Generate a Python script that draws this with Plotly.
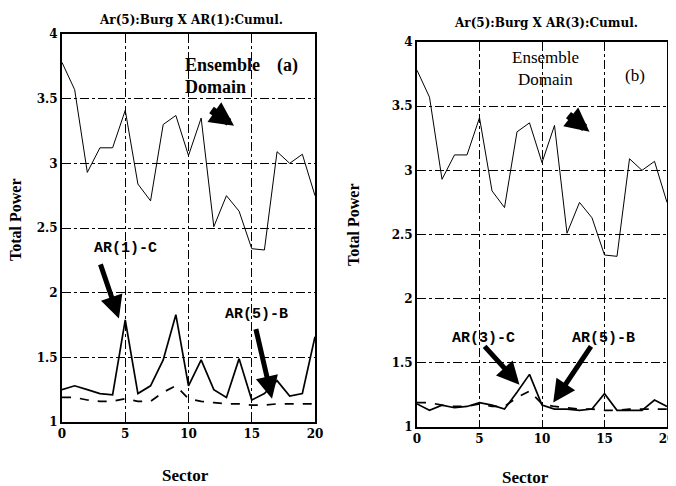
import plotly.graph_objects as go

sectors = list(range(21))
ensemble = [3.78, 3.57, 2.93, 3.12, 3.12, 3.41, 2.84, 2.71, 3.30, 3.37, 3.06,
            3.35, 2.51, 2.75, 2.63, 2.34, 2.33, 3.09, 3.00, 3.07, 2.75]
ar1_c = [1.25, 1.28, 1.25, 1.22, 1.21, 1.79, 1.22, 1.28, 1.48, 1.83, 1.28,
         1.48, 1.25, 1.19, 1.49, 1.17, 1.22, 1.32, 1.20, 1.22, 1.66]
ar5_b = [1.19, 1.19, 1.17, 1.16, 1.16, 1.18, 1.16, 1.16, 1.23, 1.28, 1.18,
         1.16, 1.15, 1.14, 1.14, 1.13, 1.13, 1.14, 1.14, 1.14, 1.14]
ar3_c = [1.18, 1.13, 1.17, 1.15, 1.16, 1.19, 1.17, 1.14, 1.27, 1.41, 1.17,
         1.14, 1.14, 1.13, 1.14, 1.26, 1.13, 1.13, 1.13, 1.21, 1.16]

x_ticks = [0, 5, 10, 15, 20]
y_ticks = [1, 1.5, 2, 2.5, 3, 3.5, 4]
y_ticklabels = ["1", "1.5", "2", "2.5", "3", "3.5", "4"]
titles = ["Ar(5):Burg X AR(1):Cumul.", "Ar(5):Burg X AR(3):Cumul."]

SERIF = "Liberation Serif"
WIDE = "DejaVu Serif"
MONO = "Liberation Mono"

# page body has an 8px margin; lay out in window pixels
OFF = 8
W, H = 676 - OFF, 486 - OFF

def px(x):
    return (x - OFF) / W

def py(y):
    return 1 - (y - OFF) / H

fig = go.Figure()

# Panel (a)
fig.add_trace(go.Scatter(x=sectors, y=ensemble, mode="lines", line=dict(color="black", width=1),
                         xaxis="x", yaxis="y", showlegend=False))
fig.add_trace(go.Scatter(x=sectors, y=ar1_c, mode="lines", line=dict(color="black", width=1.7),
                         xaxis="x", yaxis="y", showlegend=False))
fig.add_trace(go.Scatter(x=sectors, y=ar5_b, mode="lines", line=dict(color="black", width=1.7, dash="dash"),
                         xaxis="x", yaxis="y", showlegend=False))
# Panel (b)
fig.add_trace(go.Scatter(x=sectors, y=ensemble, mode="lines", line=dict(color="black", width=1),
                         xaxis="x2", yaxis="y2", showlegend=False))
fig.add_trace(go.Scatter(x=sectors, y=ar3_c, mode="lines", line=dict(color="black", width=1.7),
                         xaxis="x2", yaxis="y2", showlegend=False))
fig.add_trace(go.Scatter(x=sectors, y=ar5_b, mode="lines", line=dict(color="black", width=1.7, dash="dash"),
                         xaxis="x2", yaxis="y2", showlegend=False))

tickfont = dict(family=WIDE, size=12, color="black")

def xaxis(domain, anchor):
    return dict(domain=domain, anchor=anchor, range=[0, 20], tickvals=x_ticks,
                ticktext=["<b>%d</b>" % v for v in x_ticks], tickfont=tickfont,
                showline=True, linecolor="black", linewidth=2, mirror=True,
                showgrid=True, gridcolor="black", gridwidth=1, griddash="dashdot",
                ticks="inside", ticklen=4, tickcolor="black", zeroline=False,
                automargin=False)

def yaxis(domain, anchor):
    return dict(domain=domain, anchor=anchor, range=[1, 4], tickvals=y_ticks,
                ticktext=["<b>%s</b>" % t for t in y_ticklabels], tickfont=tickfont,
                showline=True, linecolor="black", linewidth=2, mirror=True,
                showgrid=True, gridcolor="black", gridwidth=1, griddash="dashdot",
                ticks="inside", ticklen=4, tickcolor="black", zeroline=False,
                automargin=False)

fig.update_layout(
    width=W, height=H,
    margin=dict(l=0, r=0, t=0, b=0, autoexpand=False),
    paper_bgcolor="white", plot_bgcolor="white",
    xaxis=xaxis([px(62), px(315)], "y"),
    yaxis=yaxis([py(422), py(34)], "x"),
    xaxis2=xaxis([px(417), px(667)], "y2"),
    yaxis2=yaxis([py(427), py(42)], "x2"),
)

ann = []

def ptext(text, x, y, size, family=SERIF, angle=0):
    return dict(text=text, x=px(x), y=py(y), xref="paper", yref="paper", xanchor="center",
                yanchor="middle", showarrow=False, textangle=angle,
                font=dict(family=family, size=size, color="black"))

# titles
ann.append(ptext("<b>" + titles[0] + "</b>", 191, 20, 12, family=WIDE))
ann.append(ptext("<b>" + titles[1] + "</b>", 546, 23, 12, family=WIDE))
# axis titles
ann.append(ptext("<b>Total Power</b>", 16, 220, 16, angle=-90))
ann.append(ptext("<b>Total Power</b>", 353, 225, 16, angle=-90))
ann.append(ptext("<b>Sector</b>", 185, 475, 17))
ann.append(ptext("<b>Sector</b>", 525, 477, 17))

big = dict(family=SERIF, size=18, color="black")
med = dict(family=SERIF, size=17, color="black")
lab = dict(family=MONO, size=15, color="black")

# panel a texts
ann.append(dict(text="<b>Ensemble</b>", x=9.57, y=3.76, xref="x", yref="y", xanchor="left",
                showarrow=False, font=big))
ann.append(dict(text="<b>(a)</b>", x=17.8, y=3.76, xref="x", yref="y", showarrow=False, font=big))
ann.append(dict(text="<b>Domain</b>", x=9.57, y=3.59, xref="x", yref="y", xanchor="left",
                showarrow=False, font=big))
ann.append(dict(text="<b>AR(1)-C</b>", x=5.0, y=2.34, xref="x", yref="y", showarrow=False, font=lab))
ann.append(dict(text="<b>AR(5)-B</b>", x=15.4, y=1.83, xref="x", yref="y", showarrow=False, font=lab))
# panel b texts
ann.append(dict(text="Ensemble", x=10.24, y=3.88, xref="x2", yref="y2", showarrow=False, font=med))
ann.append(dict(text="Domain", x=10.24, y=3.71, xref="x2", yref="y2", showarrow=False, font=med))
ann.append(dict(text="(b)", x=17.4, y=3.74, xref="x2", yref="y2", showarrow=False, font=med))
ann.append(dict(text="<b>AR(3)-C</b>", x=5.3, y=1.69, xref="x2", yref="y2", showarrow=False, font=lab))
ann.append(dict(text="<b>AR(5)-B</b>", x=14.9, y=1.69, xref="x2", yref="y2", showarrow=False, font=lab))

def arrow(xr, yr, tail, tip, width=5, size=0.9):
    return dict(text="", x=tip[0], y=tip[1], ax=tail[0], ay=tail[1], xref=xr, yref=yr,
                axref=xr, ayref=yr, showarrow=True, arrowhead=2, arrowwidth=width,
                arrowsize=size, arrowcolor="black")

ann.append(arrow("x", "y", (3.0, 2.23), (4.5, 1.80)))
ann.append(arrow("x", "y", (15.3, 1.73), (16.6, 1.18)))
ann.append(arrow("x", "y", (11.7, 3.42), (13.6, 3.29), width=8, size=0.6))
ann.append(arrow("x2", "y2", (5.3, 1.64), (8.2, 1.33)))
ann.append(arrow("x2", "y2", (14.0, 1.64), (10.9, 1.19)))
ann.append(arrow("x2", "y2", (12.0, 3.44), (13.8, 3.30), width=8, size=0.6))

fig.update_layout(annotations=ann)
fig.write_html("out.html")
